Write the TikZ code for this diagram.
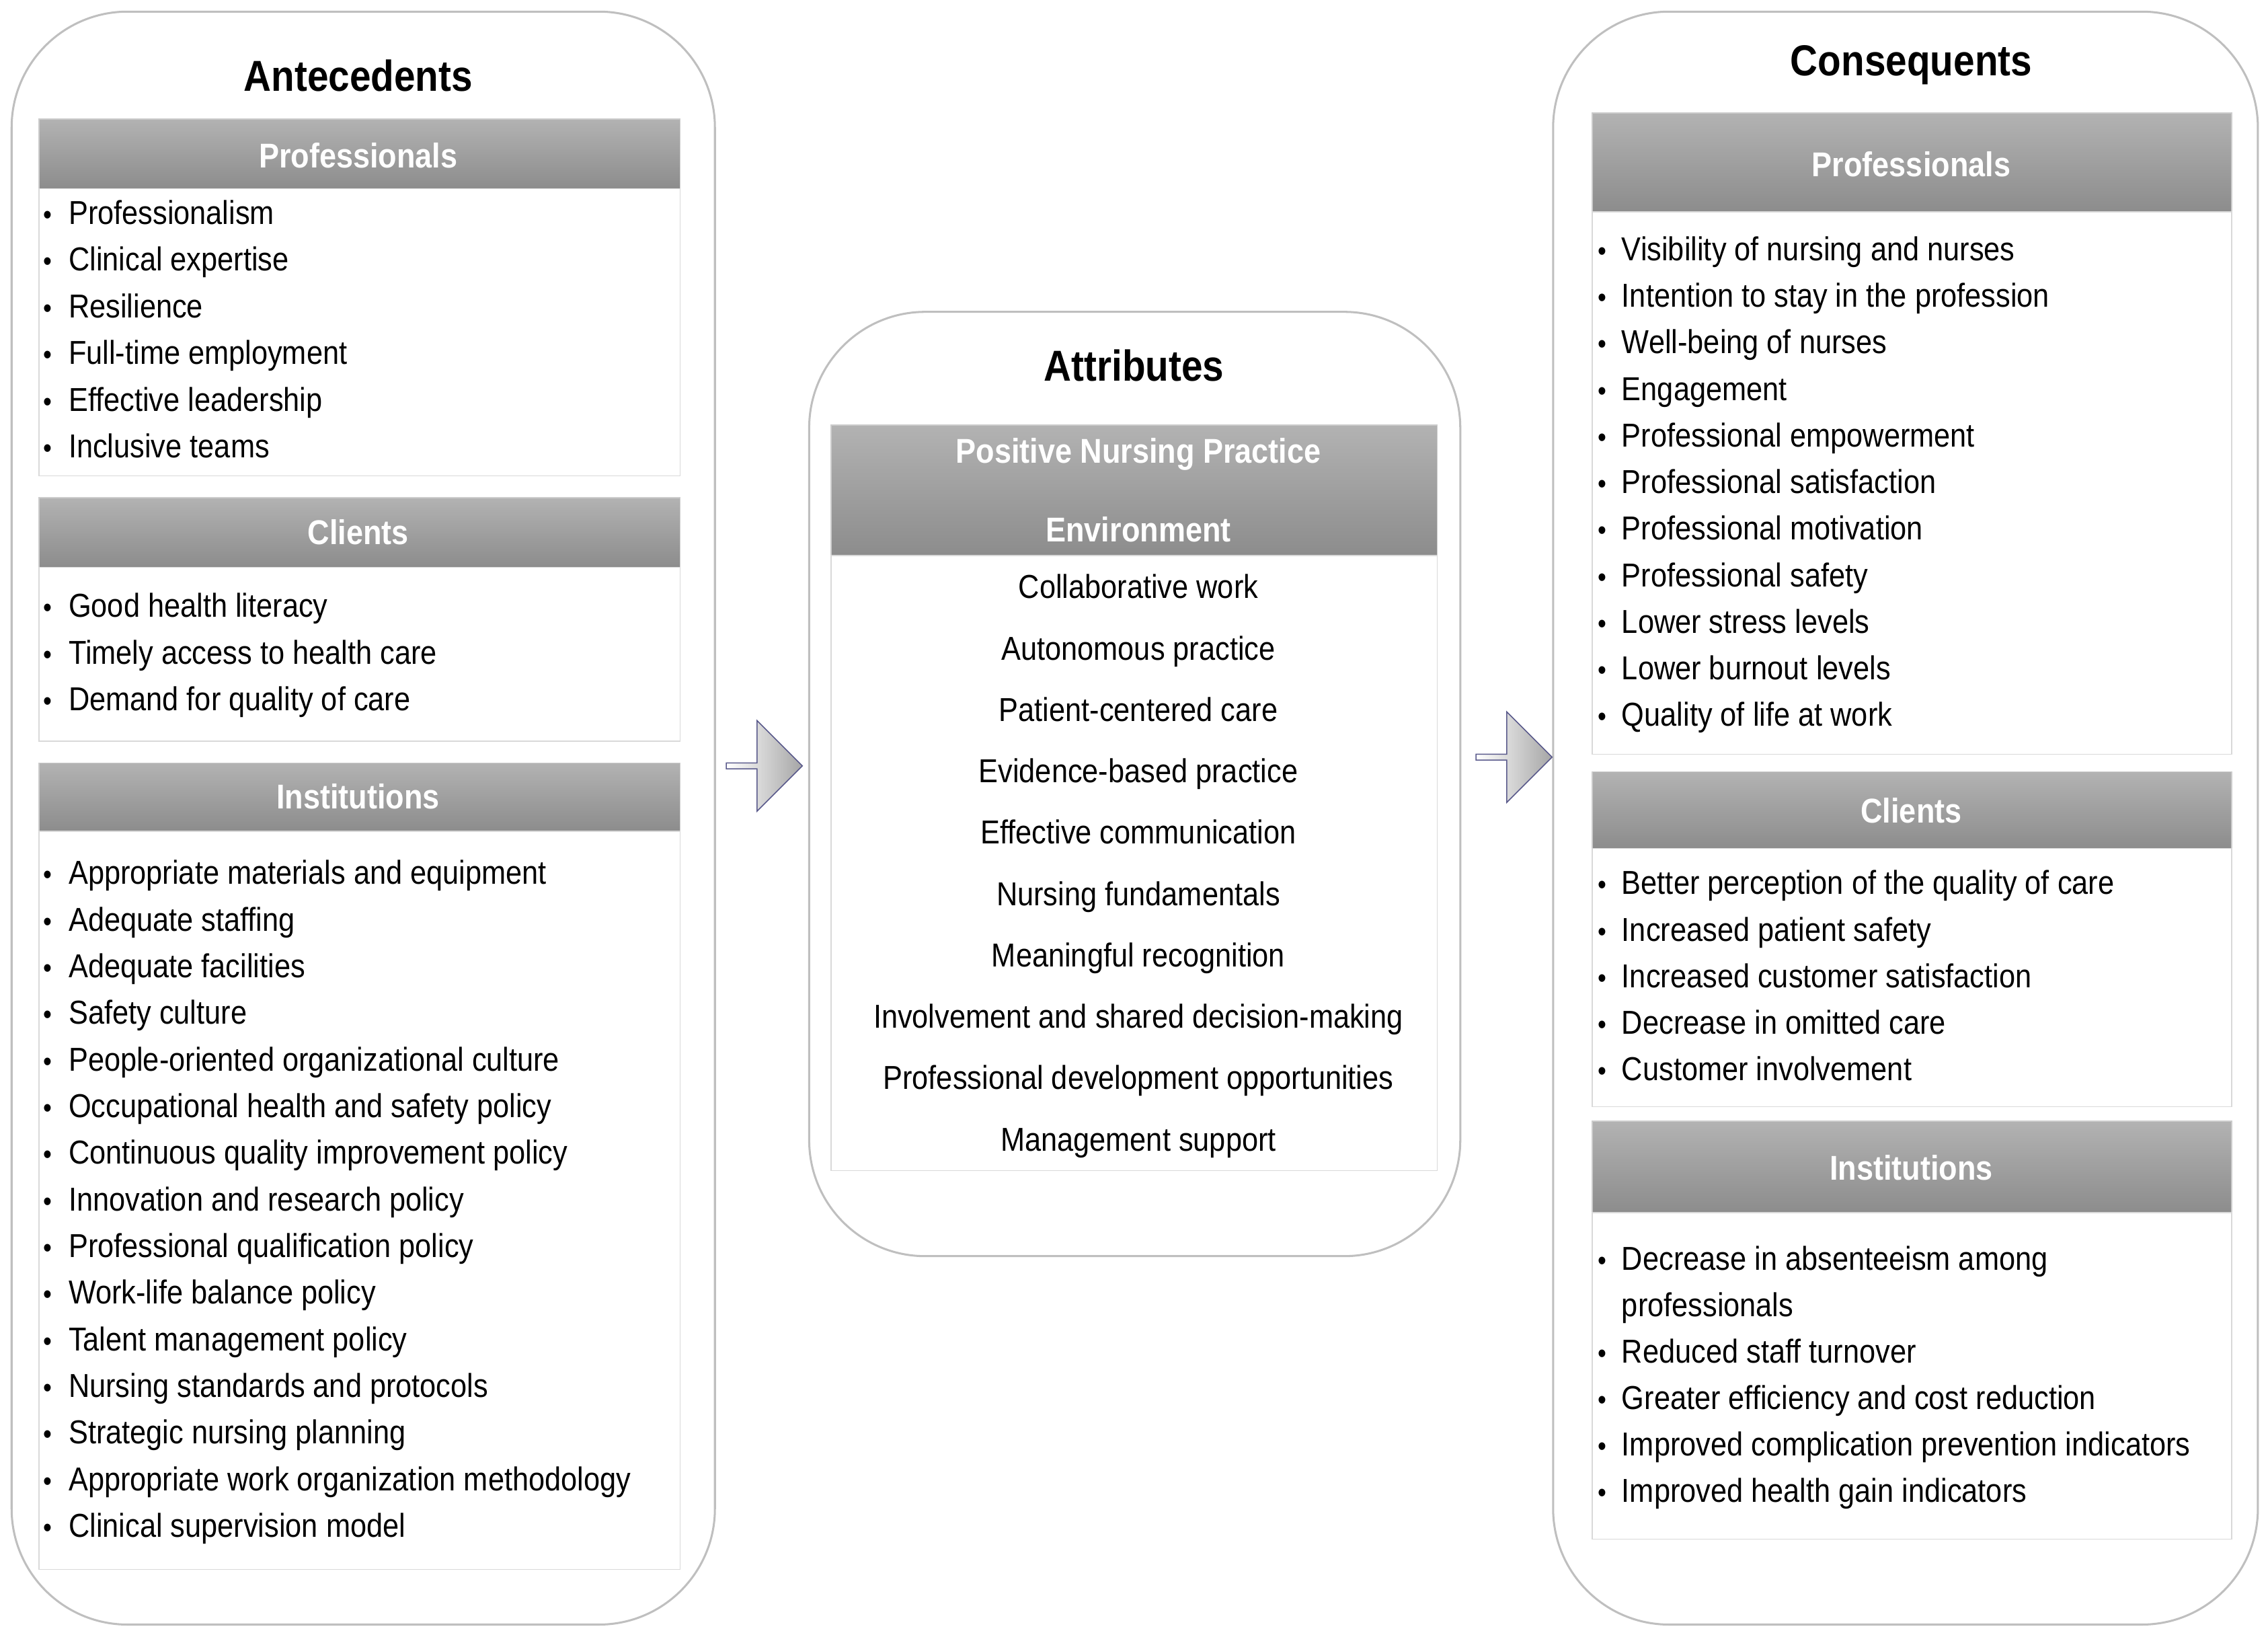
\documentclass[tikz,border=0pt]{standalone}
\usepackage{fontspec}
\setmainfont{Liberation Sans}[FakeStretch=0.88]
\usetikzlibrary{shapes.arrows}
\begin{document}
\begin{tikzpicture}[x=0.02cm,y=-0.02cm,
  outer/.style={draw=black!25,line width=0.8pt,fill=white,rounded corners=1.6cm},
  hdr/.style={top color=black!30,bottom color=black!45,draw=black!20},
  lst/.style={draw=black!15,fill=white},
  title/.style={font=\fontsize{17}{20}\selectfont\bfseries},
  htext/.style={text=white,font=\fontsize{13.5}{17}\selectfont\bfseries,align=center},
  item/.style={anchor=mid west,inner sep=0pt,font=\fontsize{13}{15}\selectfont},
  citem/.style={anchor=mid,inner sep=0pt,font=\fontsize{13}{15}\selectfont},
  bul/.style={anchor=mid,inner sep=0pt,font=\fontsize{11}{13}\selectfont},
  barrow/.style={single arrow,draw=black!35!blue!30!gray,left color=white,right color=black!35,minimum height=1.05cm,minimum width=1.25cm,single arrow head extend=0.1cm,inner sep=0pt}]
\useasboundingbox (0,0) rectangle (1564,1127);
% outer frames
\draw[outer] (8,8) rectangle (493,1120);
\draw[outer] (558,215) rectangle (1007,866);
\draw[outer] (1071,8) rectangle (1557,1120);
% titles
\node[title] (tA) at (247,52) {Antecedents};
\node[title] (tB) at (782,252) {Attributes};
\node[title] (tC) at (1318,45) {Consequents};
% left
\draw[hdr] (27,82) rectangle (469,130); \node[htext] (hA1) at (247,107) {Professionals};
\draw[lst] (27,130) rectangle (469,328);
\draw[hdr] (27,343) rectangle (469,391); \node[htext] (hA2) at (247,367) {Clients};
\draw[lst] (27,391) rectangle (469,511);
\draw[hdr] (27,526) rectangle (469,573); \node[htext] (hA3) at (247,549) {Institutions};
\draw[lst] (27,573) rectangle (469,1082);
\foreach \t [count=\i from 0] in {Professionalism,Clinical expertise,Resilience,Full-time employment,Effective leadership,Inclusive teams}
  {\node[bul] (ba\i) at (33,150+32.2*\i) {•}; \node[item] (a\i) at (47,150+32.2*\i) {\t};}
\foreach \t [count=\i from 0] in {Good health literacy,Timely access to health care,Demand for quality of care}
  {\node[bul] (bb\i) at (33,421+32.2*\i) {•}; \node[item] (b\i) at (47,421+32.2*\i) {\t};}
\foreach \t [count=\i from 0] in {Appropriate materials and equipment,Adequate staffing,Adequate facilities,Safety culture,People-oriented organizational culture,Occupational health and safety policy,Continuous quality improvement policy,Innovation and research policy,Professional qualification policy,Work-life balance policy,Talent management policy,Nursing standards and protocols,Strategic nursing planning,Appropriate work organization methodology,Clinical supervision model}
  {\node[bul] (bc\i) at (33,605+32.15*\i) {•}; \node[item] (c\i) at (47,605+32.15*\i) {\t};}
% middle
\draw[hdr] (573,293) rectangle (991,383);
\node[htext,font=\fontsize{13.5}{31}\selectfont\bfseries] (hB) at (785,338) {Positive Nursing Practice\\Environment};
\draw[lst] (573,383) rectangle (991,807);
\foreach \t [count=\i from 0] in {Collaborative work,Autonomous practice,Patient-centered care,Evidence-based practice,Effective communication,Nursing fundamentals,Meaningful recognition,Involvement and shared decision-making,Professional development opportunities,Management support}
  {\node[citem] (m\i) at (785,408+42.3*\i) {\t};}
% right
\draw[hdr] (1098,78) rectangle (1539,146); \node[htext] (hC1) at (1318,113) {Professionals};
\draw[lst] (1098,146) rectangle (1539,520);
\draw[hdr] (1098,532) rectangle (1539,585); \node[htext] (hC2) at (1318,559) {Clients};
\draw[lst] (1098,585) rectangle (1539,763);
\draw[hdr] (1098,773) rectangle (1539,836); \node[htext] (hC3) at (1318,805) {Institutions};
\draw[lst] (1098,836) rectangle (1539,1061);
\foreach \t [count=\i from 0] in {Visibility of nursing and nurses,Intention to stay in the profession,Well-being of nurses,Engagement,Professional empowerment,Professional satisfaction,Professional motivation,Professional safety,Lower stress levels,Lower burnout levels,Quality of life at work}
  {\node[bul] (bd\i) at (1105,175+32.1*\i) {•}; \node[item] (d\i) at (1118,175+32.1*\i) {\t};}
\foreach \t [count=\i from 0] in {Better perception of the quality of care,Increased patient safety,Increased customer satisfaction,Decrease in omitted care,Customer involvement}
  {\node[bul] (be\i) at (1105,612+32.1*\i) {•}; \node[item] (e\i) at (1118,612+32.1*\i) {\t};}
\node[bul] (bf0) at (1105,871) {•}; \node[item] (f0) at (1118,871) {Decrease in absenteeism among};
\node[item] (f0b) at (1118,903) {professionals};
\foreach \t [count=\i from 1] in {Reduced staff turnover,Greater efficiency and cost reduction,Improved complication prevention indicators,Improved health gain indicators}
  {\node[bul] (bf\i) at (1105,903+32*\i) {•}; \node[item] (f\i) at (1118,903+32*\i) {\t};}
% arrows
\node[barrow] (ar1) at (526,528) {};
\node[barrow] (ar2) at (1043,522) {};
\end{tikzpicture}
\end{document}
